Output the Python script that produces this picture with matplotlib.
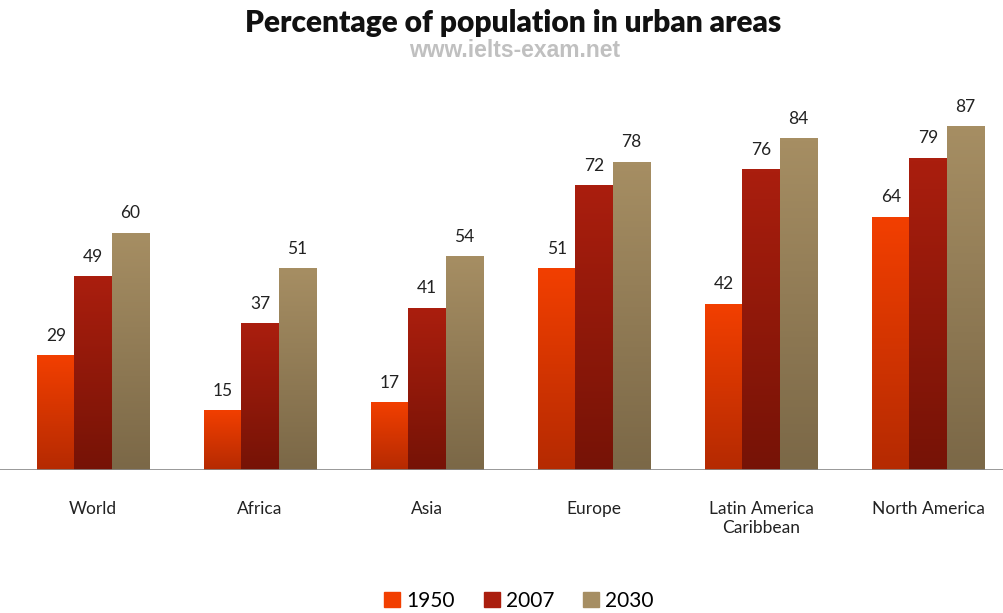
import numpy as np
import matplotlib
matplotlib.use("Agg")
import matplotlib.pyplot as plt
from matplotlib.colors import LinearSegmentedColormap

plt.rcParams['font.family'] = ['Lato', 'DejaVu Sans']

# Data
regions = ["World", "Africa", "Asia", "Europe", "Latin America\nCaribbean", "North America"]
years = ["1950", "2007", "2030"]
pct_1950 = [29, 15, 17, 51, 42, 64]
pct_2007 = [49, 37, 41, 72, 76, 79]
pct_2030 = [60, 51, 54, 78, 84, 87]

# top colour, bottom colour for each series
grads = [("#f23f00", "#b52a02"), ("#aa1e0e", "#761306"), ("#a68e63", "#7b6847")]

fig = plt.figure(figsize=(10.04, 6.13), dpi=100)
ax = fig.add_axes([0, 0.2333, 1, 0.644])

x = np.arange(len(regions))
w = 0.222
series = [pct_1950, pct_2007, pct_2030]

for i, (vals, yr) in enumerate(zip(series, years)):
    top, bot = grads[i]
    bars = ax.bar(x + (i - 1) * w, vals, w, color=top, label=yr, zorder=2)
    cmap = LinearSegmentedColormap.from_list("g%d" % i, [bot, top])
    grad = np.linspace(0, 1, 100).reshape(-1, 1)
    for b, v in zip(bars, vals):
        bx, by = b.get_x(), b.get_y()
        bw, bh = b.get_width(), b.get_height()
        ax.imshow(grad, cmap=cmap, origin="lower", aspect="auto",
                  extent=[bx, bx + bw, by, by + bh], zorder=3)
        ax.text(bx + bw / 2, v + 3.0, str(v), ha="center", va="bottom",
                fontsize=12.5, color="#222222")

ax.set_xlim(-0.557, 5.455)
ax.set_ylim(0, 100)
ax.axhline(0, color="#888888", lw=1.2, zorder=4)
for s in ax.spines.values():
    s.set_visible(False)
ax.set_yticks([])
ax.set_xticks(x)
ax.set_xticklabels(regions, fontsize=12.5, color="#222222", linespacing=1.3)
ax.tick_params(axis="x", length=0, pad=22)
ax.set_aspect("auto")

fig.text(0.511, 0.962, "Percentage of population in urban areas", ha="center",
         va="center", fontsize=21.5, fontweight="heavy", color="#111111")
fig.text(0.513, 0.917, "www.ielts-exam.net", ha="center", va="center",
         fontsize=16.5, fontweight="bold", color="#c0c0c0",
         family=["Liberation Sans", "DejaVu Sans"])

handles = [plt.Rectangle((0, 0), 1, 1, color=g[0]) for g in grads]
fig.legend(handles, years, loc="center", bbox_to_anchor=(0.517, 0.02),
           ncol=3, frameon=False, fontsize=15, handlelength=0.75,
           handleheight=0.75, handletextpad=0.3, columnspacing=1.4)

fig.savefig("out.png", dpi=100)
